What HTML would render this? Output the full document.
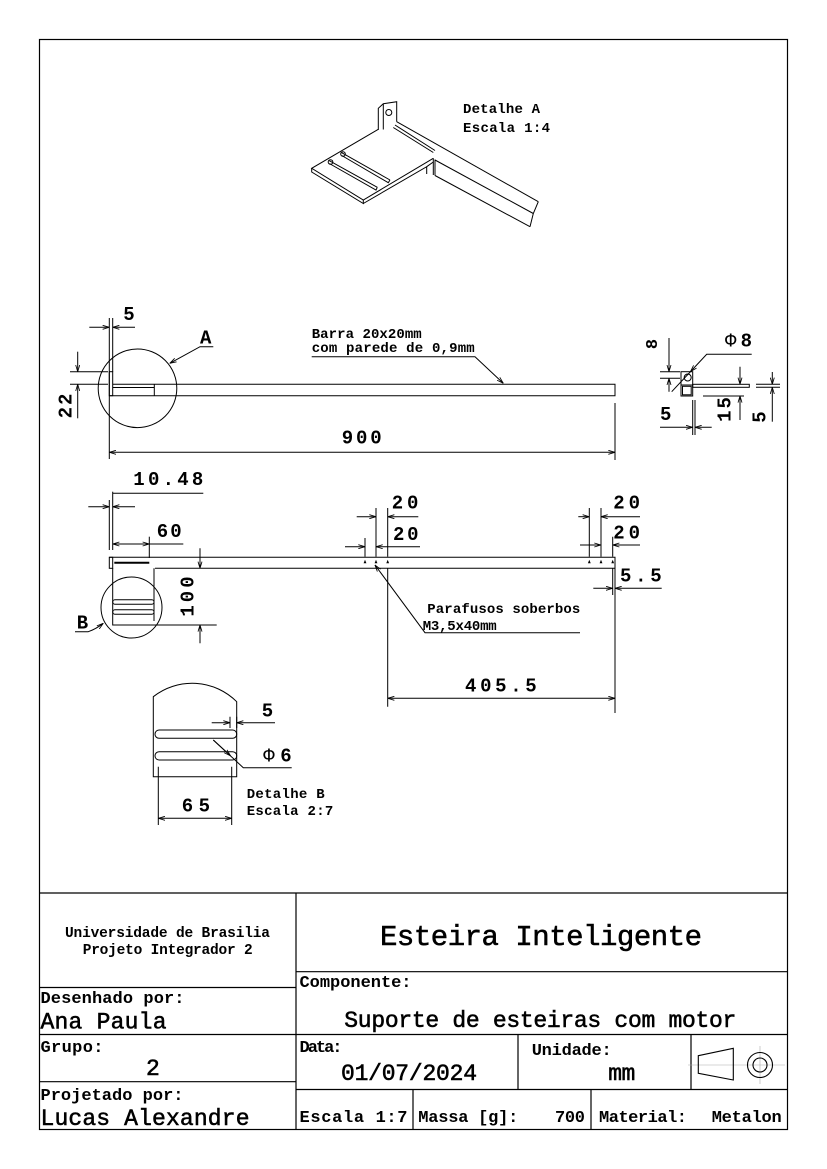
<!DOCTYPE html>
<html>
<head>
<meta charset="utf-8">
<style>
  html,body{margin:0;padding:0;background:#fff;}
  svg{display:block;}
  .t{font-family:"Liberation Mono","DejaVu Sans Mono",monospace;fill:#000;}
  .b{font-weight:bold;}
  .s{stroke:#000;stroke-width:0.55;}
</style>
</head>
<body>
<svg width="827" height="1169" viewBox="0 0 827 1169" xmlns="http://www.w3.org/2000/svg">
<defs>
  <marker id="ar" viewBox="0 0 8 6" refX="8" refY="3" markerWidth="7" markerHeight="5" orient="auto" markerUnits="userSpaceOnUse">
    <path d="M0,0.6 L8,3 L0,5.4" fill="none" stroke="#000" stroke-width="1"/>
  </marker>
</defs>
<rect x="0" y="0" width="827" height="1169" fill="#fff"/>

<!-- Frame -->
<rect x="39.5" y="39.5" width="748" height="1090" fill="none" stroke="#000" stroke-width="1.2"/>

<g stroke="#000" stroke-width="1" fill="none">
<!-- ================= DETAIL A (isometric) ================= -->
  <path d="M378.3,130 L378.3,108.3 L383.3,103.7 L396.7,101.7 L396.7,121.7"/>
  <path d="M383.3,103.7 L383.3,129.5"/>
  <circle cx="388.8" cy="112.5" r="3"/>
  <path d="M378.3,129.3 L311.7,168.3 L363.3,200 L433.3,158.3"/>
  <path d="M311.7,168.3 L311.7,172 L363.3,203.5 L363.3,200"/>
  <path d="M363.3,203.5 L426.7,166.7 L426.7,174"/>
  <path d="M426.7,166.7 L433.3,162"/>
  <path d="M433.3,158.3 L433.3,175 M435,159.5 L435,175.5"/>
  <path d="M396.7,121.7 L538.3,201.7"/>
  <path d="M435,160 L533.3,213.5"/>
  <path d="M435,175.5 L530,226.7"/>
  <path d="M538.3,201.7 L533.3,213.5 L530,226.7"/>
  <path d="M395,125 L435,150.5 M393.3,127.5 L433.3,152.5"/>
  <path d="M341.7,152.7 L390,180 M341.7,155.5 L388.3,182.7 L390,180"/>
  <circle cx="343" cy="154" r="2.3"/>
  <path d="M329.3,160.7 L377.3,187.3 M329.3,163.5 L376,190 L377.3,187.3"/>
  <circle cx="330.5" cy="162" r="2.3"/>

<!-- ================= TOP VIEW ================= -->
  <path d="M112.7,384.3 L615,384.3 L615,395.7 L109.3,395.7"/>
  <rect x="109.3" y="371.7" width="3.4" height="24"/>
  <path d="M112.7,387.5 L154.3,387.5 M154.3,384.3 L154.3,395.7"/>
  <circle cx="137.5" cy="388.3" r="39.3"/>
  <path d="M213.3,346.7 L200,346.7 L169.8,363.3" marker-end="url(#ar)"/>
  <path d="M109.3,318 L109.3,459"/>
  <path d="M112.7,318 L112.7,371.7"/>
  <path d="M89.3,327.3 L109.3,327.3" marker-end="url(#ar)"/>
  <path d="M135,327.3 L112.7,327.3" marker-end="url(#ar)"/>
  <path d="M70,371.7 L108,371.7 M70,384.3 L108,384.3"/>
  <path d="M77.7,351.7 L77.7,371.7" marker-end="url(#ar)"/>
  <path d="M77.7,418.3 L77.7,384.3" marker-end="url(#ar)"/>
  <path d="M615,403 L615,460"/>
  <path d="M362,452.3 L109.3,452.3" marker-end="url(#ar)"/>
  <path d="M362,452.3 L615,452.3" marker-end="url(#ar)"/>
  <path d="M311.7,356.7 L475,356.7 L503.3,383.3" marker-end="url(#ar)"/>

<!-- ================= RIGHT SIDE VIEW ================= -->
  <rect x="681" y="371.7" width="11.7" height="24.3"/>
  <path d="M681,385 L692.7,385"/>
  <rect x="682.5" y="386.3" width="8.7" height="8.5"/>
  <circle cx="687.7" cy="377.5" r="3.5"/>
  <rect x="692.7" y="384.3" width="56.6" height="3"/>
  <path d="M660,371.7 L680,371.7 M660,378.3 L680,378.3"/>
  <path d="M669,338 L669,371.7" marker-end="url(#ar)"/>
  <path d="M669,391.7 L669,378.3" marker-end="url(#ar)"/>
  <path d="M751.7,354.3 L706.7,354.3 L690.5,371.6" marker-end="url(#ar)"/>
  <path d="M690.5,371.6 L671.7,391.7"/>
  <path d="M692.7,400 L692.7,435 M695,400 L695,435"/>
  <path d="M660,427.3 L692.7,427.3" marker-end="url(#ar)"/>
  <path d="M711.7,427.3 L695,427.3" marker-end="url(#ar)"/>
  <path d="M703,396 L744,396"/>
  <path d="M740,366.7 L740,384.3" marker-end="url(#ar)"/>
  <path d="M740,420 L740,396" marker-end="url(#ar)"/>
  <path d="M756,384.3 L780,384.3 M756,387.3 L780,387.3"/>
  <path d="M772.3,372 L772.3,384.3" marker-end="url(#ar)"/>
  <path d="M772.3,421.7 L772.3,387.3" marker-end="url(#ar)"/>

<!-- ================= MIDDLE VIEW ================= -->
  <path d="M109.3,557.3 L615,557.3 L615,568.3 L155,568.3"/>
  <rect x="109.3" y="557.3" width="3.4" height="11"/>
  <path d="M112.7,568.3 L112.7,625 L216.7,625"/>
  <path d="M154,568.3 L154,621"/>
  <path d="M114.3,562.7 L149.3,562.7" stroke-width="2"/>
  <rect x="112.7" y="599.8" width="41.3" height="4.4" rx="2.2"/>
  <rect x="112.7" y="609.8" width="41.3" height="4.4" rx="2.2"/>
  <circle cx="131.5" cy="607.5" r="30.5"/>
  <path d="M75,631.7 L88.3,631.7 Q96,629 103.3,623.3" marker-end="url(#ar)"/>
  <path d="M200,548.3 L200,568.3" marker-end="url(#ar)"/>
  <path d="M200,643.3 L200,625" marker-end="url(#ar)"/>
  <path d="M109.3,500 L109.3,550"/>
  <path d="M112.7,491.7 L112.7,550"/>
  <path d="M112.7,493.3 L203.3,493.3"/>
  <path d="M88.3,506.7 L109.3,506.7" marker-end="url(#ar)"/>
  <path d="M135,506.7 L112.7,506.7" marker-end="url(#ar)"/>
  <path d="M149.3,536.7 L149.3,558"/>
  <path d="M132,544 L112.7,544" marker-end="url(#ar)"/>
  <path d="M132,544 L149.3,544" marker-end="url(#ar)"/>
  <path d="M149.3,544 L183.3,544"/>
  <path d="M376,508 L376,556.7 M387.7,508 L387.7,556.7 M365,538 L365,556.7"/>
  <path d="M356.7,516.7 L376,516.7" marker-end="url(#ar)"/>
  <path d="M418.3,516.7 L387.7,516.7" marker-end="url(#ar)"/>
  <path d="M345,546.7 L365,546.7" marker-end="url(#ar)"/>
  <path d="M420,546.7 L376,546.7" marker-end="url(#ar)"/>
  <path d="M589.3,508 L589.3,556.7 M601,508 L601,556.7 M612.7,536.7 L612.7,556.7"/>
  <path d="M578.3,516.7 L589.3,516.7" marker-end="url(#ar)"/>
  <path d="M640,516.7 L601,516.7" marker-end="url(#ar)"/>
  <path d="M580,545 L601,545" marker-end="url(#ar)"/>
  <path d="M640,545 L612.7,545" marker-end="url(#ar)"/>
  <path d="M612.7,568.3 L612.7,595"/>
  <path d="M615,568.3 L615,713"/>
  <path d="M593.3,588.3 L612.7,588.3" marker-end="url(#ar)"/>
  <path d="M661.7,588.3 L615,588.3" marker-end="url(#ar)"/>
  <path d="M580,632.7 L425,632.7 L375,565" marker-end="url(#ar)"/>
  <path d="M387.7,568.3 L387.7,706.7"/>
  <path d="M500,698.3 L387.7,698.3" marker-end="url(#ar)"/>
  <path d="M500,698.3 L615,698.3" marker-end="url(#ar)"/>

<!-- ================= DETAIL B ================= -->
  <path d="M153.3,776.7 L153.3,696.7 A63,63 0 0 1 236.7,701.7 L236.7,776.7 Z"/>
  <rect x="155" y="730" width="81.7" height="8.3" rx="4.1"/>
  <rect x="155" y="751.7" width="81.7" height="8.3" rx="4.1"/>
  <path d="M230,716.7 L230,728 M236.7,716.7 L236.7,728"/>
  <path d="M211.7,722.7 L230,722.7" marker-end="url(#ar)"/>
  <path d="M275,722.7 L236.7,722.7" marker-end="url(#ar)"/>
  <path d="M291.7,767.7 L243.3,767.7 L213.3,740"/>
  <path d="M213.3,740 L230.5,755.8" marker-end="url(#ar)"/>
  <path d="M158.3,766.7 L158.3,825 M231.7,766.7 L231.7,825"/>
  <path d="M195,818.3 L158.3,818.3" marker-end="url(#ar)"/>
  <path d="M195,818.3 L231.7,818.3" marker-end="url(#ar)"/>
</g>

<g fill="#000">
  <path d="M363.6,563.2 L365,559.8 L366.4,563.2 Z"/>
  <path d="M374.6,563.2 L376,559.8 L377.4,563.2 Z"/>
  <path d="M386.3,563.2 L387.7,559.8 L389.1,563.2 Z"/>
  <path d="M587.9,563.2 L589.3,559.8 L590.7,563.2 Z"/>
  <path d="M599.6,563.2 L601,559.8 L602.4,563.2 Z"/>
  <path d="M611.3,563.2 L612.7,559.8 L614.1,563.2 Z"/>
</g>

<g class="t b">
  <text x="463" y="113" font-size="14" textLength="77">Detalhe A</text>
  <text x="463" y="132" font-size="14" textLength="87">Escala 1:4</text>

  <text x="123.3" y="320" font-size="19">5</text>
  <text x="200" y="343.3" font-size="19">A</text>
  <text transform="translate(71.6,405) rotate(-90)" text-anchor="middle" font-size="19" letter-spacing="2">22</text>
  <text x="341.7" y="443.3" font-size="19" textLength="40">900</text>
  <text x="311.7" y="338" font-size="14" textLength="110">Barra 20x20mm</text>
  <text x="311.7" y="352" font-size="14" textLength="163">com parede de 0,9mm</text>

  <text transform="translate(657,344) rotate(-90)" text-anchor="middle" font-size="17">8</text>
  <text x="725" y="346.7" font-size="19" textLength="27"><tspan font-weight="normal">Φ</tspan>8</text>
  <text x="660" y="420" font-size="19">5</text>
  <text transform="translate(730.5,408.5) rotate(-90)" text-anchor="middle" font-size="19" letter-spacing="2">15</text>
  <text transform="translate(765.5,417) rotate(-90)" text-anchor="middle" font-size="19">5</text>

  <text x="133.3" y="485" font-size="19" textLength="70">10.48</text>
  <text x="156.7" y="537" font-size="19" textLength="25">60</text>
  <text x="391.7" y="508.3" font-size="19" textLength="26.7">20</text>
  <text x="393" y="540" font-size="19" textLength="25.5">20</text>
  <text x="613.3" y="508.3" font-size="19" textLength="26.7">20</text>
  <text x="613.3" y="538.3" font-size="19" textLength="26.7">20</text>
  <text x="620" y="581.7" font-size="19" textLength="41.7">5.5</text>
  <text transform="translate(193.3,595) rotate(-90)" text-anchor="middle" font-size="19" letter-spacing="3">100</text>
  <text x="76.7" y="628.3" font-size="19">B</text>
  <text x="427.3" y="613" font-size="14" textLength="153">Parafusos soberbos</text>
  <text x="422.7" y="630" font-size="14" textLength="74">M3,5x40mm</text>
  <text x="465" y="691.7" font-size="19" textLength="71.7">405.5</text>

  <text x="261.7" y="716.7" font-size="19">5</text>
  <text x="263.3" y="761.7" font-size="19" textLength="28.4"><tspan font-weight="normal">Φ</tspan>6</text>
  <text x="181.7" y="811.7" font-size="19" textLength="28.3">65</text>
  <text x="246.7" y="798" font-size="14" textLength="78">Detalhe B</text>
  <text x="246.7" y="815" font-size="14" textLength="86.6">Escala 2:7</text>
</g>

<!-- ================= TITLE BLOCK ================= -->
<g stroke="#000" stroke-width="1.2" fill="none">
  <path d="M39.5,893 L787.5,893"/>
  <path d="M296,893 L296,1129.5"/>
  <path d="M39.5,987.5 L296,987.5"/>
  <path d="M39.5,1034.5 L787.5,1034.5"/>
  <path d="M39.5,1081.7 L296,1081.7"/>
  <path d="M296,971.7 L787.5,971.7"/>
  <path d="M296,1089.5 L787.5,1089.5"/>
  <path d="M518,1034.5 L518,1089.5"/>
  <path d="M691,1034.5 L691,1089.5"/>
  <path d="M413,1089.5 L413,1129.5"/>
  <path d="M591,1089.5 L591,1129.5"/>
</g>
<g fill="none">
  <path d="M688,1065 L785,1065 M760,1046 L760,1084" stroke="#aaa" stroke-width="0.6"/>
  <path d="M698.3,1055.7 L733.3,1048.3 L733.3,1080 L698.3,1073.3 Z" stroke="#000" stroke-width="1.1"/>
  <circle cx="760" cy="1065" r="12.5" stroke="#000" stroke-width="1.1"/>
  <circle cx="760" cy="1065" r="7" stroke="#000" stroke-width="1.1"/>
</g>

<g class="t">
  <text class="b" x="65" y="937" font-size="14.5" textLength="205">Universidade de Brasilia</text>
  <text class="b" x="82.7" y="954" font-size="14.5" textLength="170">Projeto Integrador 2</text>
  <text class="s" x="380" y="945" font-size="29" textLength="322">Esteira Inteligente</text>

  <text class="b" x="299.5" y="987" font-size="17" textLength="112">Componente:</text>
  <text class="b" x="40.5" y="1003" font-size="17" textLength="144">Desenhado por:</text>
  <text class="s" x="40.5" y="1028.3" font-size="23" textLength="126">Ana Paula</text>
  <text class="s" x="344.3" y="1027" font-size="23" textLength="392">Suporte de esteiras com motor</text>

  <text class="b" x="40.5" y="1052" font-size="17" textLength="63">Grupo:</text>
  <text class="s" x="146" y="1075" font-size="23">2</text>
  <text class="b" x="299.5" y="1052" font-size="17" textLength="43">Data:</text>
  <text class="s" x="341" y="1080" font-size="23" textLength="136">01/07/2024</text>
  <text class="b" x="531.7" y="1055" font-size="17" textLength="80">Unidade:</text>
  <text class="s" x="608.3" y="1080" font-size="23" textLength="27">mm</text>

  <text class="b" x="40.5" y="1100" font-size="17" textLength="143">Projetado por:</text>
  <text class="s" x="40.5" y="1125" font-size="23" textLength="209">Lucas Alexandre</text>
  <text class="b" x="299.5" y="1122" font-size="17" textLength="108">Escala 1:7</text>
  <text class="b" x="418.3" y="1122" font-size="17" textLength="100">Massa [g]:</text>
  <text class="b" x="555" y="1122" font-size="17" textLength="30">700</text>
  <text class="b" x="599" y="1122" font-size="17" textLength="88">Material:</text>
  <text class="b" x="711.7" y="1122" font-size="17" textLength="70">Metalon</text>
</g>
</svg>
</body>
</html>
